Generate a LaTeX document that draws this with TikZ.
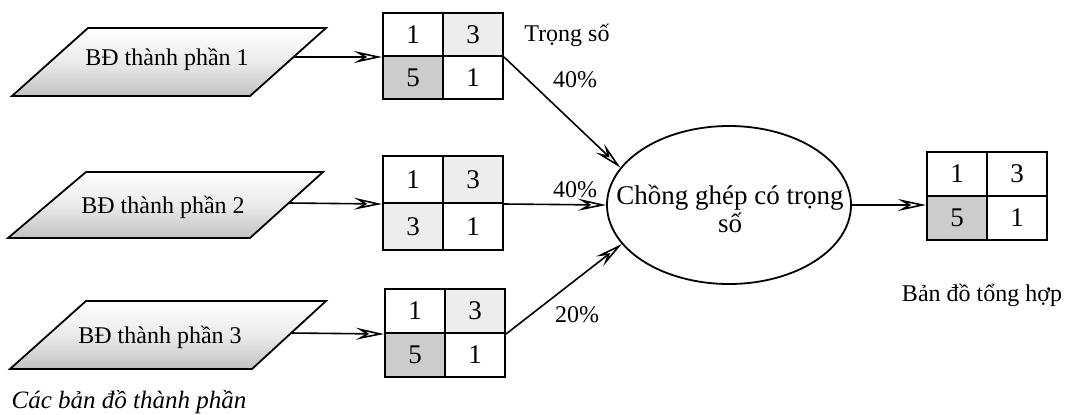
\documentclass[tikz,border=0pt]{standalone}
\usepackage{fontspec}
\setmainfont{Liberation Serif}
\usetikzlibrary{arrows.meta,shapes.geometric,calc}
\begin{document}
\begin{tikzpicture}[x=0.5pt,y=-0.5pt,
  lbl/.style={font=\fontsize{12}{14}\selectfont, inner sep=0pt},
  para/.style={draw, line width=0.9pt, top color=white, bottom color=black!24, middle color=black!8},
  cellbox/.style={draw, line width=1pt, minimum width=30pt, inner sep=0pt, font=\fontsize{13.5}{14}\selectfont},
  dark/.style={fill=black!20},
  light/.style={fill=black!7},
  arr/.style={line width=0.8pt, -{Stealth[open,length=14pt,width=6pt,inset=5pt]}},
  conn/.style={line width=0.8pt}
]
\useasboundingbox (0,0) rectangle (1066,414);

% component maps (parallelograms)
\draw[para] (12,96) -- (88,28) -- (326,28) -- (250,96) -- cycle;
\node[lbl] (p1) at (167,59) {BĐ thành phần 1};
\coordinate (p1e) at (293,57);

\draw[para] (8,238) -- (86,172) -- (323,172) -- (250,238) -- cycle;
\node[lbl] (p2) at (163,207) {BĐ thành phần 2};
\coordinate (p2e) at (289,203);

\draw[para] (10,369) -- (86,301) -- (326,301) -- (252,369) -- cycle;
\node[lbl] (p3) at (160,337) {BĐ thành phần 3};
\coordinate (p3e) at (291,333);

% grid 1
\node[cellbox, minimum height=21.5pt] (g1a) at (413,34.5) {1};
\node[cellbox, minimum height=21.5pt, light] (g1b) at (473,34.5) {3};
\node[cellbox, minimum height=21.5pt, dark] (g1c) at (413,77.5) {5};
\node[cellbox, minimum height=21.5pt] (g1d) at (473,77.5) {1};

% grid 2
\node[cellbox, minimum height=23.5pt] (g2a) at (413,179.5) {1};
\node[cellbox, minimum height=23.5pt, light] (g2b) at (473,179.5) {3};
\node[cellbox, minimum height=23.5pt, light] (g2c) at (413,226.5) {3};
\node[cellbox, minimum height=23.5pt] (g2d) at (473,226.5) {1};

% grid 3
\node[cellbox, minimum height=22pt] (g3a) at (415,311) {1};
\node[cellbox, minimum height=22pt, light] (g3b) at (475,311) {3};
\node[cellbox, minimum height=22pt, dark] (g3c) at (415,355) {5};
\node[cellbox, minimum height=22pt] (g3d) at (475,355) {1};

% result grid
\node[cellbox, minimum height=22pt] (ra) at (957,174) {1};
\node[cellbox, minimum height=22pt] (rb) at (1017,174) {3};
\node[cellbox, minimum height=22pt, dark] (rc) at (957,218) {5};
\node[cellbox, minimum height=22pt] (rd) at (1017,218) {1};

% ellipse
\node[draw, ellipse, line width=0.9pt, minimum width=122pt, minimum height=79pt, inner sep=0pt] (ell) at (729,205) {};
\node[align=center, inner sep=0pt, font=\fontsize{13.5}{14}\selectfont] (ellt) at (730,209) {Chồng ghép có trọng\\số};

% connectors
\draw[arr] (p1e) -- (g1a.south west);
\draw[arr] (p2e) -- (g2a.south west);
\draw[arr] (p3e) -- (g3a.south west);
\draw[arr] (g1b.south east) -- (ell.161);
\draw[arr] (g2b.south east) -- (ell.west);
\draw[arr] (g3b.south east) -- (ell.200);
\draw[arr] (ell.east) -- (ell.east -| ra.west);

% labels
\node[lbl] (ts) at (567,35) {Trọng số};
\node[lbl] (w1) at (575,80) {40\%};
\node[lbl] (w2) at (575,190) {40\%};
\node[lbl] (w3) at (577,315) {20\%};
\node[lbl] (res) at (982,295) {Bản đồ tổng hợp};
\node[lbl, font=\fontsize{12.5}{14}\selectfont\itshape] (cap) at (129,402) {Các bản đồ thành phần};
\end{tikzpicture}
\end{document}
